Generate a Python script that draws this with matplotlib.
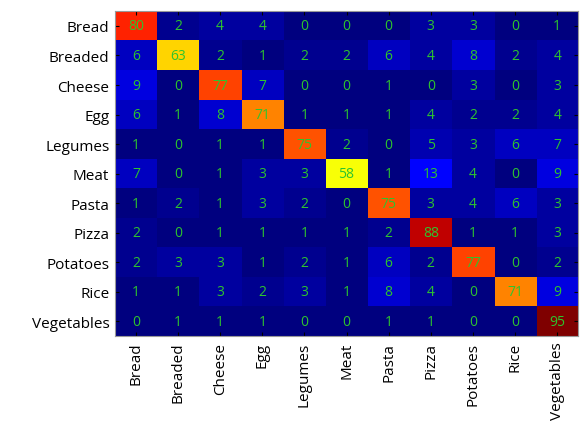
import numpy as np
import matplotlib.pyplot as plt
from matplotlib.colors import LinearSegmentedColormap

plt.rcParams['font.family'] = ['Open Sans', 'DejaVu Sans']

classes = ['Bread', 'Breaded', 'Cheese', 'Egg', 'Legumes', 'Meat',
           'Pasta', 'Pizza', 'Potatoes', 'Rice', 'Vegetables']

conf = np.array([
    [80, 2, 4, 4, 0, 0, 0, 3, 3, 0, 1],
    [6, 63, 2, 1, 2, 2, 6, 4, 8, 2, 4],
    [9, 0, 77, 7, 0, 0, 1, 0, 3, 0, 3],
    [6, 1, 8, 71, 1, 1, 1, 4, 2, 2, 4],
    [1, 0, 1, 1, 75, 2, 0, 5, 3, 6, 7],
    [7, 0, 1, 3, 3, 58, 1, 13, 4, 0, 9],
    [1, 2, 1, 3, 2, 0, 75, 3, 4, 6, 3],
    [2, 0, 1, 1, 1, 1, 2, 88, 1, 1, 3],
    [2, 3, 3, 1, 2, 1, 6, 2, 77, 0, 2],
    [1, 1, 3, 2, 3, 1, 8, 4, 0, 71, 9],
    [0, 1, 1, 1, 0, 0, 1, 1, 0, 0, 95],
])

# matlab-style jet (matplotlib's jet is shifted a bit)
mjet = LinearSegmentedColormap('mjet', {
    'red':   [(0, 0, 0), (3/8, 0, 0), (5/8, 1, 1), (7/8, 1, 1), (1, .5, .5)],
    'green': [(0, 0, 0), (1/8, 0, 0), (3/8, 1, 1), (5/8, 1, 1), (7/8, 0, 0), (1, 0, 0)],
    'blue':  [(0, .5, .5), (1/8, 1, 1), (3/8, 1, 1), (5/8, 0, 0), (1, 0, 0)],
}, N=64)

fig = plt.figure(figsize=(5.8, 4.35), dpi=100)
ax = fig.add_axes([0.198, 0.225, 0.799, 0.747])
ax.imshow(conf, cmap=mjet, aspect='auto',
          vmin=0, vmax=conf.max(), interpolation='nearest')

for i in range(len(classes)):
    for j in range(len(classes)):
        ax.text(j, i, str(conf[i, j]), ha='center', va='center',
                color='#2ec42e', fontsize=10)

ax.set_xticks(range(len(classes)))
ax.set_yticks(range(len(classes)))
ax.set_xticklabels(classes, rotation=90, fontsize=11)
ax.set_yticklabels(classes, fontsize=11)
ax.tick_params(direction='in', length=3, top=True, right=True, pad=4)
for s in ax.spines.values():
    s.set_color('0.6')

fig.savefig('out.png', dpi=100)
